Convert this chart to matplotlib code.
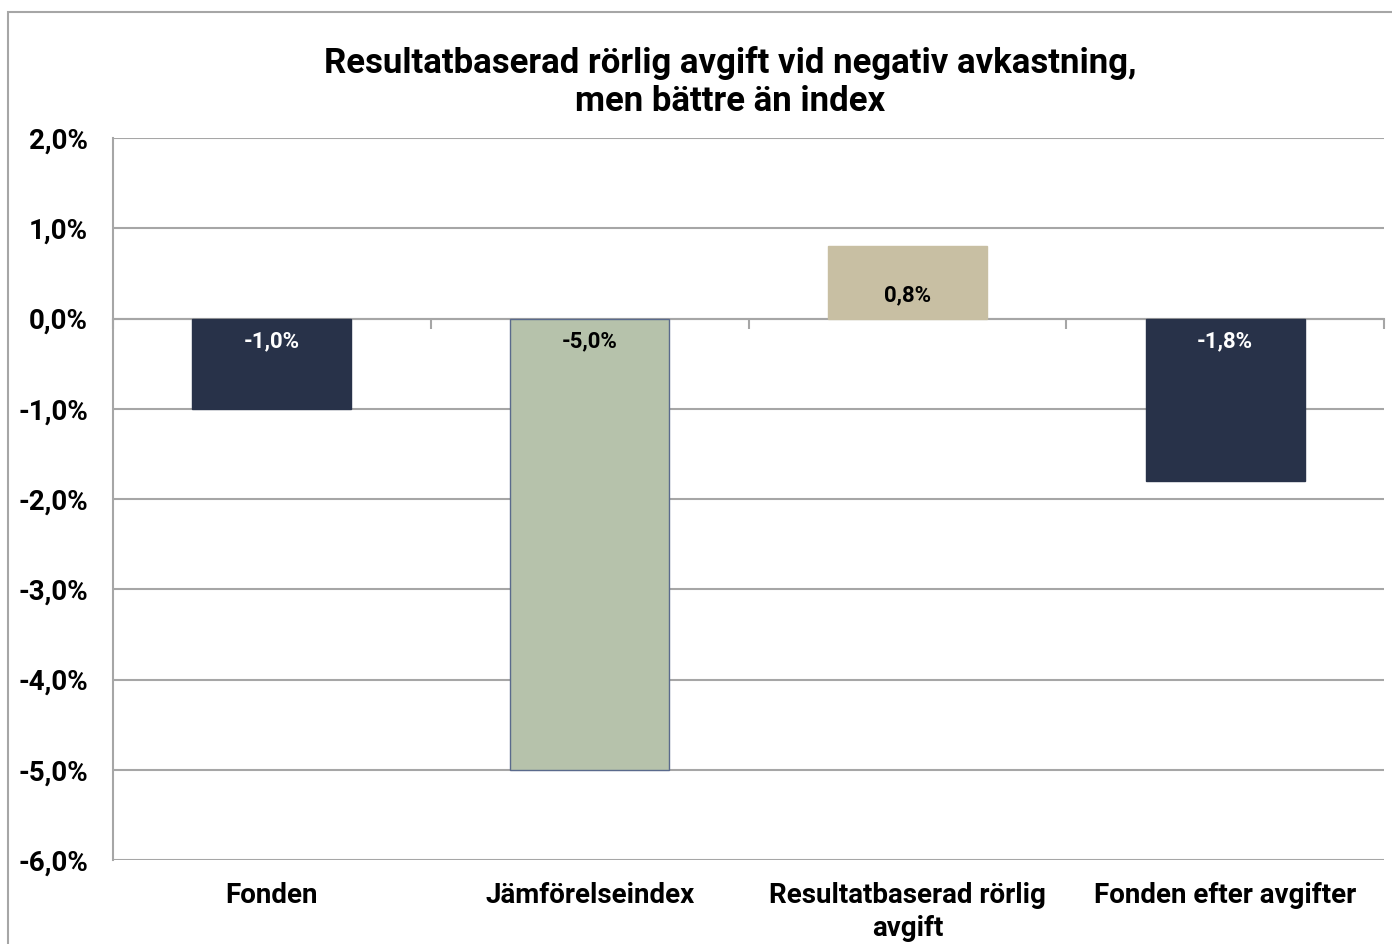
import matplotlib
matplotlib.use("Agg")
import matplotlib.pyplot as plt
import matplotlib.transforms as mtransforms
from matplotlib.patches import Rectangle
import numpy as np

plt.rcParams["font.family"] = ["Roboto", "DejaVu Sans"]
plt.rcParams["font.weight"] = "bold"

categories = ["Fonden", "Jämförelseindex", "Resultatbaserad rörlig\navgift", "Fonden efter avgifter"]
values = [-1.0, -5.0, 0.8, -1.8]
bar_colors = ["#283249", "#B6C2AB", "#C8BFA3", "#283249"]
edge_colors = ["#283249", "#5A6A8C", "#C8BFA3", "#283249"]
label_colors = ["white", "black", "black", "white"]
yticks = [2, 1, 0, -1, -2, -3, -4, -5, -6]
title = "Resultatbaserad rörlig avgift vid negativ avkastning,\nmen bättre än index"

W, H = 1392, 944
fig = plt.figure(figsize=(W / 100, H / 100), dpi=100)
ax = fig.add_axes([113 / W, 1 - 860 / H, (1384 - 113) / W, (860 - 138) / H])

# outer chart border (runs off the right/bottom edge like in the source)
fig.patches.append(Rectangle((8 / W, -0.1), 1.2, 1.1 - 12 / H, transform=fig.transFigure,
                             fill=False, edgecolor="#A6A6A6", linewidth=1.5, zorder=0))

x = np.arange(len(categories))
ax.bar(x, values, width=0.5, color=bar_colors, edgecolor=edge_colors, linewidth=1.0, zorder=3)

ax.set_xlim(-0.5, len(categories) - 0.5)
ax.set_ylim(-6, 2)
ax.set_yticks(yticks)
ax.set_yticklabels([f"{v:.1f}%".replace(".", ",") for v in yticks], fontsize=20, fontweight="bold")
ax.tick_params(axis="y", length=0, pad=18)
ax.yaxis.grid(True, color="#A6A6A6", linewidth=1.5, zorder=0)
ax.set_axisbelow(True)

for side in ["top", "right"]:
    ax.spines[side].set_visible(False)
ax.spines["left"].set_color("#A6A6A6")
ax.spines["left"].set_linewidth(1.5)

# category axis sits at zero, with ticks between categories
ax.spines["bottom"].set_position(("data", 0))
ax.spines["bottom"].set_color("#A6A6A6")
ax.spines["bottom"].set_linewidth(1.5)
ax.set_xticks(np.arange(len(categories) + 1) - 0.5)
ax.set_xticklabels([])
ax.tick_params(axis="x", direction="out", length=7, width=1.5, color="#A6A6A6")

# category names below the plot area
trans = mtransforms.blended_transform_factory(ax.transData, ax.transAxes)
for xi, name in zip(x, categories):
    ax.text(xi, -0.030, name, transform=trans, ha="center", va="top", fontsize=20,
            fontweight="bold", linespacing=1.3)

# value labels
for xi, v, c in zip(x, values, label_colors):
    off = 23 if v > 0 else -23
    ax.annotate(f"{v:.1f}%".replace(".", ","), xy=(xi, 0), xytext=(0, off * 0.72),
                textcoords="offset points", ha="center", va="center", fontsize=16,
                fontweight="bold", color=c, zorder=4)

fig.text(730 / W, 1 - 82 / H, title, ha="center", va="center", fontsize=25,
         fontweight="bold", linespacing=1.2)

fig.savefig("out.png", dpi=100)
